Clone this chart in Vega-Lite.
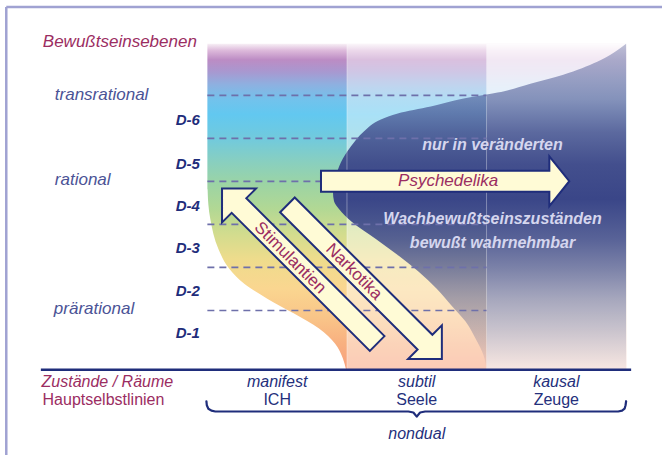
{
  "$schema": "https://vega.github.io/schema/vega-lite/v6.json",
  "width": 664,
  "height": 457,
  "autosize": {"type": "fit", "contains": "padding"},
  "padding": 0,
  "background": "white",
  "config": {"view": {"stroke": null}},
  "layer": [
    {
      "data": {"values": [
        {"x0": -1.4407, "x1": 3.2571, "y0": 8.0556, "y1": 8.0556},
        {"x0": -1.4407, "x1": -1.4407, "y0": -2.3611, "y1": 8.0556}
      ]},
      "mark": {"type": "rule", "stroke": "#a0a2d2", "strokeWidth": 2.5},
      "encoding": {
        "x": {"field": "x0", "type": "quantitative", "scale": {"domain": [-1.4857, 3.2571], "nice": false, "zero": false}, "axis": null},
        "x2": {"field": "x1"},
        "y": {"field": "y0", "type": "quantitative", "scale": {"domain": [-2.3611, 8.2176], "nice": false, "zero": false}, "axis": null},
        "y2": {"field": "y1"}
      }
    },
    {
      "data": {"values": [{"x0": 0, "x1": 3, "y0": -0.37, "y1": 7.199}]},
      "mark": {"type": "rect", "color": {"gradient": "linear", "x1": 0, "y1": 0, "x2": 0, "y2": 1, "stops": [
        {"offset": 0, "color": "#f7eff5"},
        {"offset": 0.021, "color": "#dcb8da"},
        {"offset": 0.049, "color": "#bc8cc4"},
        {"offset": 0.086, "color": "#a898d0"},
        {"offset": 0.125, "color": "#8eb0e0"},
        {"offset": 0.171, "color": "#72c2ec"},
        {"offset": 0.217, "color": "#62c8f0"},
        {"offset": 0.294, "color": "#72cadc"},
        {"offset": 0.361, "color": "#88cfc0"},
        {"offset": 0.431, "color": "#9cd4a4"},
        {"offset": 0.508, "color": "#b2d894"},
        {"offset": 0.584, "color": "#d2dc8e"},
        {"offset": 0.661, "color": "#eedc8c"},
        {"offset": 0.752, "color": "#fad690"},
        {"offset": 0.844, "color": "#f9c488"},
        {"offset": 0.92, "color": "#f8b080"},
        {"offset": 1, "color": "#f8a07c"}
      ]}},
      "encoding": {
        "x": {"field": "x0", "type": "quantitative", "scale": {"domain": [-1.4857, 3.2571], "nice": false, "zero": false}, "axis": null},
        "x2": {"field": "x1"},
        "y": {"field": "y0", "type": "quantitative", "scale": {"domain": [-2.3611, 8.2176], "nice": false, "zero": false}, "axis": null},
        "y2": {"field": "y1"}
      }
    },
    {
      "data": {"values": [
        {"col": "subtil", "x0": 1, "x1": 2, "y0": -0.37, "y1": 7.199},
        {"col": "kausal", "x0": 2, "x1": 3, "y0": -0.37, "y1": 7.199}
      ]},
      "mark": {"type": "rect", "color": "white"},
      "encoding": {
        "x": {"field": "x0", "type": "quantitative", "scale": {"domain": [-1.4857, 3.2571], "nice": false, "zero": false}, "axis": null},
        "x2": {"field": "x1"},
        "y": {"field": "y0", "type": "quantitative", "scale": {"domain": [-2.3611, 8.2176], "nice": false, "zero": false}, "axis": null},
        "y2": {"field": "y1"},
        "opacity": {"field": "col", "type": "nominal", "scale": {"domain": ["subtil", "kausal"], "range": [0.45, 0.8]}, "legend": null}
      }
    },
    {
      "data": {"values": [
        {"L": 7.199, "xl": 3.0, "xr": 3.0},
        {"L": 6.782, "xl": 2.793, "xr": 3.0},
        {"L": 6.481, "xl": 2.55, "xr": 3.0},
        {"L": 6.273, "xl": 2.314, "xr": 3.0},
        {"L": 6.065, "xl": 2.079, "xr": 3.0},
        {"L": 5.926, "xl": 1.836, "xr": 3.0},
        {"L": 5.741, "xl": 1.6, "xr": 3.0},
        {"L": 5.579, "xl": 1.364, "xr": 3.0},
        {"L": 5.44, "xl": 1.243, "xr": 3.0},
        {"L": 5.162, "xl": 1.121, "xr": 3.0},
        {"L": 4.815, "xl": 1.029, "xr": 3.0},
        {"L": 4.444, "xl": 0.957, "xr": 3.0},
        {"L": 4.12, "xl": 0.921, "xr": 3.0},
        {"L": 3.75, "xl": 0.9, "xr": 3.0},
        {"L": 3.542, "xl": 0.907, "xr": 3.0},
        {"L": 3.356, "xl": 0.943, "xr": 3.0},
        {"L": 3.056, "xl": 1.036, "xr": 3.0},
        {"L": 2.662, "xl": 1.207, "xr": 3.0},
        {"L": 2.269, "xl": 1.371, "xr": 3.0},
        {"L": 1.898, "xl": 1.514, "xr": 3.0},
        {"L": 1.505, "xl": 1.643, "xr": 3.0},
        {"L": 1.111, "xl": 1.75, "xr": 3.0},
        {"L": 0.741, "xl": 1.85, "xr": 3.0},
        {"L": 0.347, "xl": 1.921, "xr": 3.0},
        {"L": -0.046, "xl": 1.979, "xr": 3.0},
        {"L": -0.37, "xl": 2.0, "xr": 3.0}
      ]},
      "mark": {"type": "area", "orient": "horizontal", "interpolate": "monotone", "color": {"gradient": "linear", "x1": 0, "y1": 0, "x2": 0, "y2": 1, "stops": [
        {"offset": 0, "color": "rgba(58,70,136,0.32)"},
        {"offset": 0.07, "color": "rgba(58,70,136,0.42)"},
        {"offset": 0.171, "color": "rgba(58,70,136,0.56)"},
        {"offset": 0.272, "color": "rgba(58,70,136,0.8)"},
        {"offset": 0.37, "color": "rgba(58,70,136,0.95)"},
        {"offset": 0.477, "color": "rgba(58,70,136,1)"},
        {"offset": 0.6, "color": "rgba(58,70,136,0.84)"},
        {"offset": 0.691, "color": "rgba(58,70,136,0.66)"},
        {"offset": 0.783, "color": "rgba(58,70,136,0.45)"},
        {"offset": 0.875, "color": "rgba(58,70,136,0.28)"},
        {"offset": 1, "color": "rgba(58,70,136,0.03)"}
      ]}},
      "encoding": {
        "y": {"field": "L", "type": "quantitative", "scale": {"domain": [-2.3611, 8.2176], "nice": false, "zero": false}, "axis": null},
        "x": {"field": "xl", "type": "quantitative", "scale": {"domain": [-1.4857, 3.2571], "nice": false, "zero": false}, "axis": null},
        "x2": {"field": "xr"}
      }
    },
    {
      "data": {"values": [
        {"L": 3.819, "xl": -0.02, "xr": 0},
        {"L": 3.125, "xl": -0.02, "xr": 0.021},
        {"L": 2.431, "xl": -0.02, "xr": 0.079},
        {"L": 1.968, "xl": -0.02, "xr": 0.157},
        {"L": 1.62, "xl": -0.02, "xr": 0.264},
        {"L": 1.273, "xl": -0.02, "xr": 0.429},
        {"L": 0.926, "xl": -0.02, "xr": 0.621},
        {"L": 0.579, "xl": -0.02, "xr": 0.8},
        {"L": 0.231, "xl": -0.02, "xr": 0.914},
        {"L": -0.116, "xl": -0.02, "xr": 0.971},
        {"L": -0.37, "xl": -0.02, "xr": 0.993}
      ]},
      "mark": {"type": "area", "orient": "horizontal", "interpolate": "monotone", "color": "white"},
      "encoding": {
        "y": {"field": "L", "type": "quantitative", "scale": {"domain": [-2.3611, 8.2176], "nice": false, "zero": false}, "axis": null},
        "x": {"field": "xl", "type": "quantitative", "scale": {"domain": [-1.4857, 3.2571], "nice": false, "zero": false}, "axis": null},
        "x2": {"field": "xr"}
      }
    },
    {
      "data": {"values": [
        {"x": 1, "bottom": -0.37, "top": 7.199},
        {"x": 2, "bottom": -0.37, "top": 7.199}
      ]},
      "mark": {"type": "rule", "stroke": "white", "strokeOpacity": 0.35, "strokeWidth": 1},
      "encoding": {
        "x": {"field": "x", "type": "quantitative", "scale": {"domain": [-1.4857, 3.2571], "nice": false, "zero": false}, "axis": null},
        "y": {"field": "bottom", "type": "quantitative", "scale": {"domain": [-2.3611, 8.2176], "nice": false, "zero": false}, "axis": null},
        "y2": {"field": "top"}
      }
    },
    {
      "data": {"values": [
        {"level": 1, "from": 0, "to": 2},
        {"level": 2, "from": 0, "to": 2},
        {"level": 3, "from": 0, "to": 2},
        {"level": 4, "from": 0, "to": 2},
        {"level": 5, "from": 0, "to": 2},
        {"level": 6, "from": 0, "to": 2}
      ]},
      "mark": {"type": "rule", "stroke": "#6e70aa", "strokeWidth": 1.6, "strokeDash": [7, 5]},
      "encoding": {
        "x": {"field": "from", "type": "quantitative", "scale": {"domain": [-1.4857, 3.2571], "nice": false, "zero": false}, "axis": null},
        "x2": {"field": "to"},
        "y": {"field": "level", "type": "quantitative", "scale": {"domain": [-2.3611, 8.2176], "nice": false, "zero": false}, "axis": null}
      }
    },
    {
      "data": {"values": [{"x0": -1.193, "x1": 3.036, "y": -0.38}]},
      "mark": {"type": "rule", "stroke": "#1f2d7b", "strokeWidth": 2.5},
      "encoding": {
        "x": {"field": "x0", "type": "quantitative", "scale": {"domain": [-1.4857, 3.2571], "nice": false, "zero": false}, "axis": null},
        "x2": {"field": "x1"},
        "y": {"field": "y", "type": "quantitative", "scale": {"domain": [-2.3611, 8.2176], "nice": false, "zero": false}, "axis": null}
      }
    },
    {
      "data": {"values": [
        {"i": 1, "x": -0.007, "y": -1.111},
        {"i": 2, "x": -0.004, "y": -1.204},
        {"i": 3, "x": 0.007, "y": -1.285},
        {"i": 4, "x": 0.029, "y": -1.331},
        {"i": 5, "x": 0.057, "y": -1.35},
        {"i": 6, "x": 1.44, "y": -1.35},
        {"i": 7, "x": 1.476, "y": -1.373},
        {"i": 8, "x": 1.5, "y": -1.47},
        {"i": 9, "x": 1.524, "y": -1.373},
        {"i": 10, "x": 1.56, "y": -1.35},
        {"i": 11, "x": 2.943, "y": -1.35},
        {"i": 12, "x": 2.971, "y": -1.331},
        {"i": 13, "x": 2.989, "y": -1.285},
        {"i": 14, "x": 2.996, "y": -1.204},
        {"i": 15, "x": 3.0, "y": -1.111}
      ]},
      "mark": {"type": "line", "stroke": "#1f2d7b", "strokeWidth": 2.2, "strokeJoin": "round", "strokeCap": "round"},
      "encoding": {
        "x": {"field": "x", "type": "quantitative", "scale": {"domain": [-1.4857, 3.2571], "nice": false, "zero": false}, "axis": null},
        "y": {"field": "y", "type": "quantitative", "scale": {"domain": [-2.3611, 8.2176], "nice": false, "zero": false}, "axis": null},
        "order": {"field": "i", "type": "quantitative"}
      }
    },
    {
      "data": {"values": [
        {"arrow": "Psychedelika", "i": 1, "x": 0.814, "y": 4.248},
        {"arrow": "Psychedelika", "i": 2, "x": 2.45, "y": 4.248},
        {"arrow": "Psychedelika", "i": 3, "x": 2.45, "y": 4.583},
        {"arrow": "Psychedelika", "i": 4, "x": 2.593, "y": 4.005},
        {"arrow": "Psychedelika", "i": 5, "x": 2.45, "y": 3.426},
        {"arrow": "Psychedelika", "i": 6, "x": 2.45, "y": 3.762},
        {"arrow": "Psychedelika", "i": 7, "x": 0.814, "y": 3.762},
        {"arrow": "Narkotika", "i": 1, "x": 0.626, "y": 3.625},
        {"arrow": "Narkotika", "i": 2, "x": 1.612, "y": 0.433},
        {"arrow": "Narkotika", "i": 3, "x": 1.68, "y": 0.653},
        {"arrow": "Narkotika", "i": 4, "x": 1.68, "y": -0.132},
        {"arrow": "Narkotika", "i": 5, "x": 1.438, "y": -0.132},
        {"arrow": "Narkotika", "i": 6, "x": 1.506, "y": 0.09},
        {"arrow": "Narkotika", "i": 7, "x": 0.521, "y": 3.282},
        {"arrow": "Stimulantien", "i": 1, "x": 1.269, "y": 0.403},
        {"arrow": "Stimulantien", "i": 2, "x": 0.279, "y": 3.611},
        {"arrow": "Stimulantien", "i": 3, "x": 0.348, "y": 3.833},
        {"arrow": "Stimulantien", "i": 4, "x": 0.105, "y": 3.833},
        {"arrow": "Stimulantien", "i": 5, "x": 0.105, "y": 3.046},
        {"arrow": "Stimulantien", "i": 6, "x": 0.174, "y": 3.269},
        {"arrow": "Stimulantien", "i": 7, "x": 1.164, "y": 0.06}
      ]},
      "mark": {"type": "line", "interpolate": "linear-closed", "fill": "#fffbd6", "stroke": "#1f2d7b", "strokeWidth": 2, "strokeJoin": "miter"},
      "encoding": {
        "x": {"field": "x", "type": "quantitative", "scale": {"domain": [-1.4857, 3.2571], "nice": false, "zero": false}, "axis": null},
        "y": {"field": "y", "type": "quantitative", "scale": {"domain": [-2.3611, 8.2176], "nice": false, "zero": false}, "axis": null},
        "detail": {"field": "arrow", "type": "nominal"},
        "order": {"field": "i", "type": "quantitative"}
      }
    },
    {
      "data": {"values": [
        {"t": "Bewußtseinsebenen", "x": -1.179, "y": 7.123}
      ]},
      "mark": {"type": "text", "font": "Liberation Sans", "fontSize": 17, "fontStyle": "italic", "align": "left", "baseline": "alphabetic", "color": "#9b2d62"},
      "encoding": {
        "x": {"field": "x", "type": "quantitative", "scale": {"domain": [-1.4857, 3.2571], "nice": false, "zero": false}, "axis": null},
        "y": {"field": "y", "type": "quantitative", "scale": {"domain": [-2.3611, 8.2176], "nice": false, "zero": false}, "axis": null},
        "text": {"field": "t"}
      }
    },
    {
      "data": {"values": [
        {"t": "Zustände / Räume", "x": -1.188, "y": -0.78}
      ]},
      "mark": {"type": "text", "font": "Liberation Sans", "fontSize": 16, "fontStyle": "italic", "align": "left", "baseline": "alphabetic", "color": "#9b2d62"},
      "encoding": {
        "x": {"field": "x", "type": "quantitative", "scale": {"domain": [-1.4857, 3.2571], "nice": false, "zero": false}, "axis": null},
        "y": {"field": "y", "type": "quantitative", "scale": {"domain": [-2.3611, 8.2176], "nice": false, "zero": false}, "axis": null},
        "text": {"field": "t"}
      }
    },
    {
      "data": {"values": [
        {"t": "Hauptselbstlinien", "x": -1.181, "y": -1.19}
      ]},
      "mark": {"type": "text", "font": "Liberation Sans", "fontSize": 16, "align": "left", "baseline": "alphabetic", "color": "#9b2d62"},
      "encoding": {
        "x": {"field": "x", "type": "quantitative", "scale": {"domain": [-1.4857, 3.2571], "nice": false, "zero": false}, "axis": null},
        "y": {"field": "y", "type": "quantitative", "scale": {"domain": [-2.3611, 8.2176], "nice": false, "zero": false}, "axis": null},
        "text": {"field": "t"}
      }
    },
    {
      "data": {"values": [
        {"t": "transrational", "x": -1.093, "y": 5.887},
        {"t": "rational", "x": -1.093, "y": 3.912},
        {"t": "prärational", "x": -1.1, "y": 0.926}
      ]},
      "mark": {"type": "text", "font": "Liberation Sans", "fontSize": 17, "fontStyle": "italic", "align": "left", "baseline": "alphabetic", "color": "#4b5396"},
      "encoding": {
        "x": {"field": "x", "type": "quantitative", "scale": {"domain": [-1.4857, 3.2571], "nice": false, "zero": false}, "axis": null},
        "y": {"field": "y", "type": "quantitative", "scale": {"domain": [-2.3611, 8.2176], "nice": false, "zero": false}, "axis": null},
        "text": {"field": "t"}
      }
    },
    {
      "data": {"values": [
        {"t": "D-6", "x": -0.054, "y": 5.301},
        {"t": "D-5", "x": -0.054, "y": 4.282},
        {"t": "D-4", "x": -0.054, "y": 3.317},
        {"t": "D-3", "x": -0.054, "y": 2.338},
        {"t": "D-2", "x": -0.054, "y": 1.343},
        {"t": "D-1", "x": -0.054, "y": 0.354}
      ]},
      "mark": {"type": "text", "font": "Liberation Sans", "fontSize": 15, "fontStyle": "italic", "fontWeight": "bold", "align": "right", "baseline": "alphabetic", "color": "#1f2d7b"},
      "encoding": {
        "x": {"field": "x", "type": "quantitative", "scale": {"domain": [-1.4857, 3.2571], "nice": false, "zero": false}, "axis": null},
        "y": {"field": "y", "type": "quantitative", "scale": {"domain": [-2.3611, 8.2176], "nice": false, "zero": false}, "axis": null},
        "text": {"field": "t"}
      }
    },
    {
      "data": {"values": [
        {"t": "manifest", "x": 0.5, "y": -0.78},
        {"t": "subtil", "x": 1.5, "y": -0.78},
        {"t": "kausal", "x": 2.5, "y": -0.78},
        {"t": "nondual", "x": 1.5, "y": -1.998}
      ]},
      "mark": {"type": "text", "font": "Liberation Sans", "fontSize": 16, "fontStyle": "italic", "align": "center", "baseline": "alphabetic", "color": "#25307c"},
      "encoding": {
        "x": {"field": "x", "type": "quantitative", "scale": {"domain": [-1.4857, 3.2571], "nice": false, "zero": false}, "axis": null},
        "y": {"field": "y", "type": "quantitative", "scale": {"domain": [-2.3611, 8.2176], "nice": false, "zero": false}, "axis": null},
        "text": {"field": "t"}
      }
    },
    {
      "data": {"values": [
        {"t": "ICH", "x": 0.5, "y": -1.19},
        {"t": "Seele", "x": 1.5, "y": -1.19},
        {"t": "Zeuge", "x": 2.5, "y": -1.19}
      ]},
      "mark": {"type": "text", "font": "Liberation Sans", "fontSize": 16, "align": "center", "baseline": "alphabetic", "color": "#25307c"},
      "encoding": {
        "x": {"field": "x", "type": "quantitative", "scale": {"domain": [-1.4857, 3.2571], "nice": false, "zero": false}, "axis": null},
        "y": {"field": "y", "type": "quantitative", "scale": {"domain": [-2.3611, 8.2176], "nice": false, "zero": false}, "axis": null},
        "text": {"field": "t"}
      }
    },
    {
      "data": {"values": [
        {"t": "nur in veränderten", "x": 2.043, "y": 4.729},
        {"t": "Wachbewußtseinszuständen", "x": 2.043, "y": 3.009},
        {"t": "bewußt wahrnehmbar", "x": 2.043, "y": 2.442}
      ]},
      "mark": {"type": "text", "font": "Liberation Sans", "fontSize": 16, "fontStyle": "italic", "fontWeight": "bold", "align": "center", "baseline": "alphabetic", "color": "#d5d6ee"},
      "encoding": {
        "x": {"field": "x", "type": "quantitative", "scale": {"domain": [-1.4857, 3.2571], "nice": false, "zero": false}, "axis": null},
        "y": {"field": "y", "type": "quantitative", "scale": {"domain": [-2.3611, 8.2176], "nice": false, "zero": false}, "axis": null},
        "text": {"field": "t"}
      }
    },
    {
      "data": {"values": [
        {"t": "Psychedelika", "x": 1.725, "y": 3.896}
      ]},
      "mark": {"type": "text", "font": "Liberation Sans", "fontSize": 17, "fontStyle": "italic", "align": "center", "baseline": "alphabetic", "color": "#9b2d62"},
      "encoding": {
        "x": {"field": "x", "type": "quantitative", "scale": {"domain": [-1.4857, 3.2571], "nice": false, "zero": false}, "axis": null},
        "y": {"field": "y", "type": "quantitative", "scale": {"domain": [-2.3611, 8.2176], "nice": false, "zero": false}, "axis": null},
        "text": {"field": "t"}
      }
    },
    {
      "data": {"values": [
        {"t": "Stimulantien", "x": 0.593, "y": 2.222},
        {"t": "Narkotika", "x": 1.05, "y": 1.898}
      ]},
      "mark": {"type": "text", "font": "Liberation Sans", "fontSize": 17, "angle": 45, "align": "center", "baseline": "middle", "color": "#9b2d62"},
      "encoding": {
        "x": {"field": "x", "type": "quantitative", "scale": {"domain": [-1.4857, 3.2571], "nice": false, "zero": false}, "axis": null},
        "y": {"field": "y", "type": "quantitative", "scale": {"domain": [-2.3611, 8.2176], "nice": false, "zero": false}, "axis": null},
        "text": {"field": "t"}
      }
    }
  ]
}
